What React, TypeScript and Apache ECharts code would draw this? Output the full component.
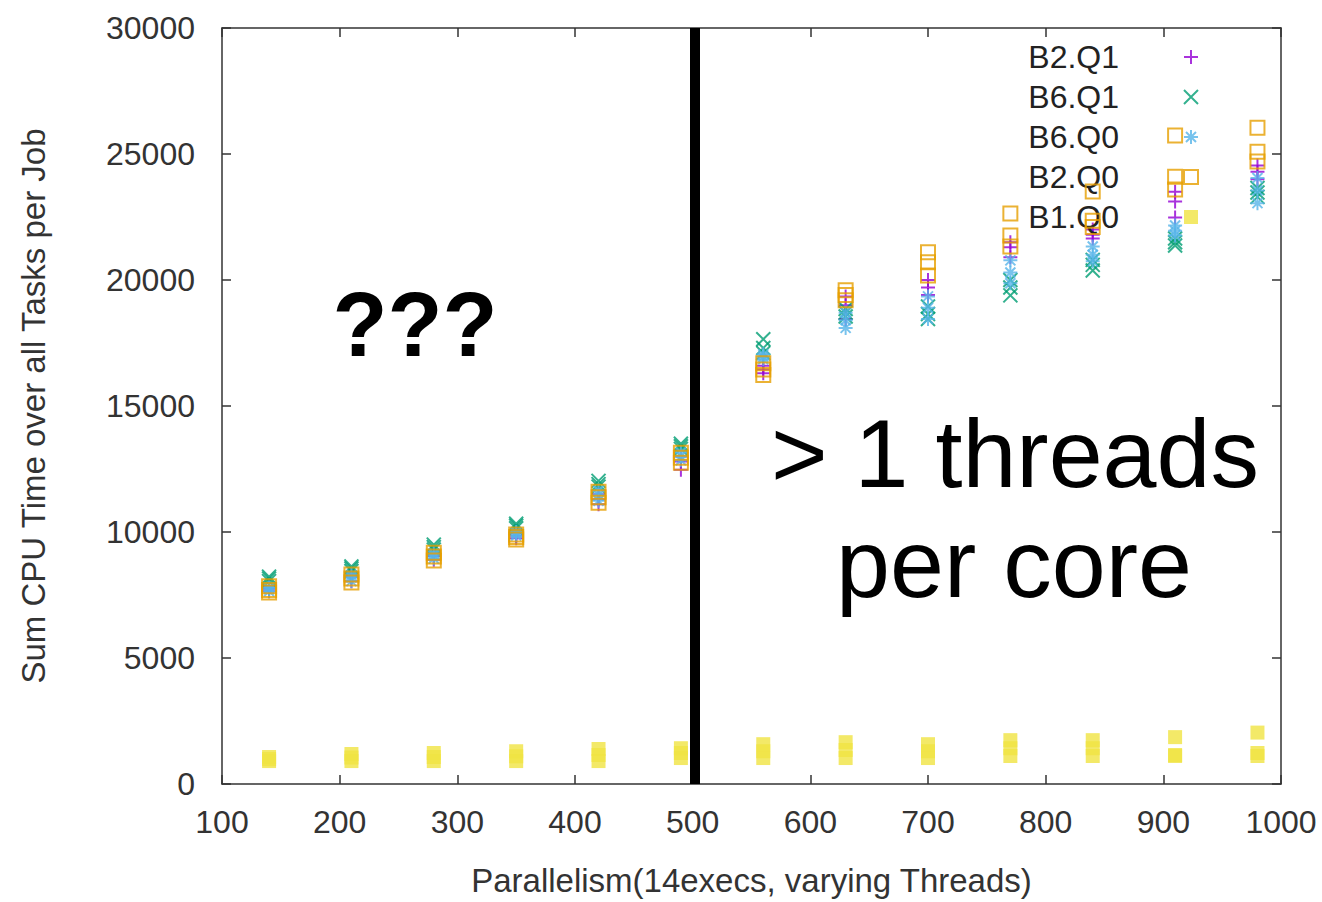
import React, { useEffect, useRef } from 'react';
import * as echarts from 'echarts';

// x positions (parallelism) of the measured configurations
const parallelism = [140, 210, 280, 350, 420, 490, 560, 630, 700, 770, 840, 910, 980];

// Sum CPU time per job, several runs per parallelism value
const b2q1 = [
  [7650, 7750, 7850], [8050, 8200, 8300], [8900, 9050, 9150], [9750, 9850, 9950],
  [11100, 11300, 11500], [12470, 12800, 13000], [16300, 16450, 16600], [18450, 19000, 19350],
  [19400, 19700, 20000], [20900, 21300, 21500], [21650, 21800, 22000], [22480, 23120, 23500],
  [24000, 24300, 24540],
];
const b6q1 = [
  [8050, 8150, 8230], [8450, 8550, 8630], [9300, 9400, 9500], [10150, 10250, 10330],
  [11800, 11900, 12030], [13300, 13400, 13500], [17100, 17300, 17650], [18550, 18700, 18850],
  [18450, 18650, 18950], [19390, 19700, 20000], [20380, 20600, 20800], [21370, 21500, 21650],
  [23300, 23470, 23650],
];
const b6q0 = [
  [7650, 7750, 7800], [8050, 8200, 8300], [8950, 9060, 9150], [9860, 9950, 10000],
  [11240, 11450, 11640], [12850, 13000, 13150], [16850, 16950, 17050], [18100, 18400, 18700],
  [18450, 18900, 19350], [19870, 20300, 20780], [20740, 21000, 21330], [21770, 21950, 22160],
  [23050, 23550, 24050],
];
const b2q0 = [
  [7600, 7700, 7850], [8000, 8150, 8310], [8870, 9030, 9180], [9700, 9800, 9900],
  [11160, 11380, 11600], [12750, 12950, 13140], [16230, 16450, 16700], [19200, 19400, 19590],
  [20180, 20700, 21100], [21330, 21770, 22640], [22100, 22350, 23510], [23590, 24100, 25730],
  [24700, 25090, 26040],
];
const b1q0 = [
  [910, 990, 1070], [910, 1050, 1190], [910, 1070, 1230], [910, 1100, 1300],
  [910, 1150, 1390], [1030, 1230, 1420], [1030, 1300, 1580], [1030, 1350, 1660],
  [1030, 1300, 1580], [1110, 1420, 1740], [1110, 1420, 1740], [1110, 1150, 1860],
  [1110, 1230, 2040],
];

const seriesNames = ['B2.Q1', 'B6.Q1', 'B6.Q0', 'B2.Q0', 'B1.Q0'];
const seriesColors = ['#9400D3', '#009E73', '#56B4E9', '#E69F00', '#F0E442'];

const xTitle = 'Parallelism(14execs, varying Threads)';
const yTitle = 'Sum CPU Time over all Tasks per Job';
const dividerX = 502;

const FONT = '"Liberation Sans", Arial, Helvetica, sans-serif';
const PLUS = 'path://M0,7L14,7M7,0L7,14';
const CROSS = 'path://M0,0L14,14M14,0L0,14';
const STAR = 'path://M0,7L14,7M7,0L7,14M2,2L12,12M12,2L2,12';
const SQUARE = 'path://M0,0L14,0L14,14L0,14Z';

function toPoints(runs: number[][]) {
  return runs.flatMap((vals, i) => vals.map((v) => [parallelism[i], v]));
}

export default function App() {
  const ref = useRef<HTMLDivElement>(null);
  useEffect(() => {
    if (!ref.current) return;
    const chart = echarts.init(ref.current, null, { renderer: 'svg' });
    const axisLine = { show: true, onZero: false, lineStyle: { color: '#333', width: 1.5 } };
    const axisTick = { show: true, inside: true, length: 9, lineStyle: { color: '#333', width: 1.5 } };
    const labelStyle = { fontSize: 32, color: '#333', fontFamily: FONT, formatter: (v: number) => String(v) };
    const titleStyle = { fontSize: 33, color: '#333', fontFamily: FONT };
    const symbols = [PLUS, CROSS, STAR, SQUARE, SQUARE];
    const dataSets = [b2q1, b6q1, b6q0, b2q0, b1q0];
    const series: any[] = dataSets.map((d, i) => {
      const hollow = i < 4;
      const s: any = {
        name: seriesNames[i],
        type: 'scatter',
        data: toPoints(d),
        symbol: symbols[i],
        symbolSize: 14,
        symbolKeepAspect: true,
        itemStyle: hollow
          ? { color: 'transparent', borderColor: seriesColors[i], borderWidth: 2 }
          : { color: seriesColors[i], borderWidth: 0 },
        emphasis: { disabled: true },
        z: 2 + i,
      };
      if (i === 4) {
        s.markLine = {
          silent: true,
          symbol: ['none', 'none'],
          label: { show: false },
          lineStyle: { color: '#000', width: 10, type: 'solid' },
          data: [{ xAxis: dividerX }],
          z: 10,
        };
      }
      return s;
    });
    chart.setOption({
      animation: false,
      backgroundColor: '#fff',
      grid: { left: 222, right: 41, top: 28, bottom: 116 },
      legend: {
        orient: 'vertical',
        right: 123,
        top: 41,
        align: 'right',
        itemWidth: 134,
        itemHeight: 14,
        itemGap: 8,
        padding: 0,
        selectedMode: false,
        textStyle: { fontSize: 32, color: '#222', fontFamily: FONT },
        data: seriesNames,
      },
      xAxis: [
        {
          type: 'value', min: 100, max: 1000, interval: 100, position: 'bottom',
          axisLine, axisTick, splitLine: { show: false },
          axisLabel: { ...labelStyle, margin: 22 },
          name: xTitle, nameLocation: 'middle', nameGap: 80, nameTextStyle: titleStyle,
        },
        {
          type: 'value', min: 100, max: 1000, interval: 100, position: 'top',
          axisLine, axisTick, splitLine: { show: false }, axisLabel: { show: false },
        },
      ],
      yAxis: [
        {
          type: 'value', min: 0, max: 30000, interval: 5000, position: 'left',
          axisLine, axisTick, splitLine: { show: false },
          axisLabel: { ...labelStyle, margin: 27 },
          name: yTitle, nameLocation: 'middle', nameGap: 172, nameTextStyle: titleStyle,
        },
        {
          type: 'value', min: 0, max: 30000, interval: 5000, position: 'right',
          axisLine, axisTick, splitLine: { show: false }, axisLabel: { show: false },
        },
      ],
      graphic: [
        {
          type: 'text', x: 415, y: 325, z: 100,
          style: { text: '???', fontSize: 90, fontWeight: 'bold', fontFamily: FONT, fill: '#000', align: 'center', verticalAlign: 'middle' },
        },
        {
          type: 'text', x: 1015, y: 453, z: 100,
          style: { text: '> 1 threads', fontSize: 97, fontWeight: 'normal', fontFamily: FONT, fill: '#000', align: 'center', verticalAlign: 'middle' },
        },
        {
          type: 'text', x: 1014, y: 563, z: 100,
          style: { text: 'per core', fontSize: 97, fontWeight: 'normal', fontFamily: FONT, fill: '#000', align: 'center', verticalAlign: 'middle' },
        },
      ],
      series,
    });
    return () => chart.dispose();
  }, []);
  return <div ref={ref} style={{ position: 'fixed', left: 0, top: 0, width: 1322, height: 902 }} />;
}
